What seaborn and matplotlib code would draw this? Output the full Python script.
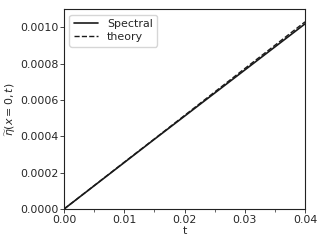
import numpy as np
import pandas as pd
import matplotlib
matplotlib.use("Agg")
import matplotlib.pyplot as plt
from matplotlib.ticker import MultipleLocator
import seaborn as sns

# values
t = [0.0, 0.005, 0.01, 0.015, 0.02, 0.025, 0.03, 0.035, 0.04]
spectral = [0.0, 0.000128, 0.000256, 0.000384, 0.000511, 0.000638, 0.000765, 0.000892, 0.001019]
theory = [0.0, 0.000129, 0.000258, 0.000386, 0.000515, 0.000644, 0.000773, 0.000901, 0.00103]
yticks = [0, 0.0002, 0.0004, 0.0006, 0.0008, 0.0010]

fs = 7.9
sns.set_theme(style="ticks", rc={"font.size": fs, "axes.labelsize": fs,
                                 "xtick.labelsize": fs, "ytick.labelsize": fs,
                                 "legend.fontsize": fs})
plt.rcParams['font.family'] = ['DejaVu Sans']

df = pd.DataFrame({"t": t, "Spectral": spectral, "theory": theory})

fig, ax = plt.subplots(figsize=(3.28, 2.46), dpi=100)
sns.lineplot(data=df, x="t", y="Spectral", color="k", lw=1.2, ax=ax, label="Spectral")
sns.lineplot(data=df, x="t", y="theory", color="k", lw=1.0, ls="--", ax=ax, label="theory")

ax.set(xlim=(0, 0.04), ylim=(0, 0.0011), xlabel="t",
       ylabel=r"$\widetilde{\eta}(x=0,t)$")
ax.set_xticks([0, 0.01, 0.02, 0.03, 0.04])
ax.xaxis.set_minor_locator(MultipleLocator(0.005))
ax.set_yticks(yticks)
ax.set_yticklabels([f"{v:.4f}" for v in yticks])
ax.tick_params(length=3, width=0.6, pad=1.2)
ax.tick_params(which="minor", length=2, width=0.5)
for s in ax.spines.values():
    s.set_linewidth(0.8)
    s.set_color("#222222")
ax.legend(loc="upper left", frameon=True, handlelength=2.2, borderpad=0.4,
          labelspacing=0.3, fancybox=True)
ax.xaxis.labelpad = 1
ax.yaxis.labelpad = 1

fig.subplots_adjust(left=0.195, right=0.93, top=0.963, bottom=0.15)
fig.savefig("out.png", dpi=100)
